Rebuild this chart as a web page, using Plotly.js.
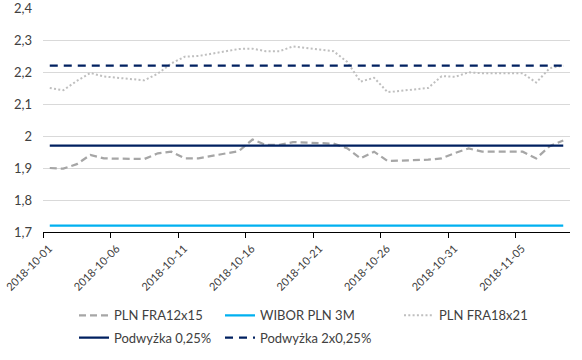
<!DOCTYPE html>
<html>
<head>
<meta charset="utf-8">
<script src="https://cdn.plot.ly/plotly-3.0.1.min.js"></script>
<style>html,body{margin:0;padding:0;background:#fff;}#chart{width:582px;height:360px;}</style>
</head>
<body>
<div id="chart"></div>
<script>
var dates = ['2018-10-01','2018-10-02','2018-10-03','2018-10-04','2018-10-05',
  '2018-10-08','2018-10-09','2018-10-10','2018-10-11','2018-10-12',
  '2018-10-15','2018-10-16','2018-10-17','2018-10-18','2018-10-19',
  '2018-10-22','2018-10-23','2018-10-24','2018-10-25','2018-10-26',
  '2018-10-29','2018-10-30','2018-10-31','2018-11-01','2018-11-02',
  '2018-11-05','2018-11-06','2018-11-07','2018-11-08'];
var fra12x15 = [1.900,1.898,1.912,1.941,1.930,
  1.928,1.946,1.951,1.930,1.930,
  1.953,1.989,1.972,1.972,1.981,
  1.976,1.962,1.930,1.951,1.922,
  1.926,1.930,1.947,1.961,1.951,
  1.951,1.930,1.968,1.986];
var wibor3m = [1.72,1.72,1.72,1.72,1.72,
  1.72,1.72,1.72,1.72,1.72,
  1.72,1.72,1.72,1.72,1.72,
  1.72,1.72,1.72,1.72,1.72,
  1.72,1.72,1.72,1.72,1.72,
  1.72,1.72,1.72,1.72];
var fra18x21 = [2.150,2.143,2.172,2.197,2.186,
  2.174,2.195,2.227,2.248,2.250,
  2.272,2.273,2.265,2.265,2.280,
  2.265,2.232,2.170,2.182,2.137,
  2.150,2.187,2.185,2.199,2.196,
  2.196,2.167,2.212,2.220];
var hike1 = [1.97,1.97,1.97,1.97,1.97,
  1.97,1.97,1.97,1.97,1.97,
  1.97,1.97,1.97,1.97,1.97,
  1.97,1.97,1.97,1.97,1.97,
  1.97,1.97,1.97,1.97,1.97,
  1.97,1.97,1.97,1.97];
var hike2 = [2.22,2.22,2.22,2.22,2.22,
  2.22,2.22,2.22,2.22,2.22,
  2.22,2.22,2.22,2.22,2.22,
  2.22,2.22,2.22,2.22,2.22,
  2.22,2.22,2.22,2.22,2.22,
  2.22,2.22,2.22,2.22];
var tickLabels = ['2018-10-01','2018-10-06','2018-10-11','2018-10-16','2018-10-21','2018-10-26','2018-10-31','2018-11-05'];
var yTicks = [1.7, 1.8, 1.9, 2.0, 2.1, 2.2, 2.3, 2.4];
var seriesNames = ['PLN FRA12x15','WIBOR PLN 3M','PLN FRA18x21','Podwyżka 0,25%','Podwyżka 2x0,25%'];

// Excel date axis: each day is a slot; ticks sit at the slot's left edge
function shift(d, hours){
  var t = new Date(d + 'T00:00:00Z').getTime() + hours*3600000;
  return new Date(t).toISOString().slice(0,19).replace('T',' ');
}
var xs = dates.map(function(d){ return shift(d, 0); });
var tickVals = tickLabels.map(function(d){ return shift(d, -12); });

var W = 582, H = 360, ML = 43, MR = 12, MT = 8, MB = 121;
var PW = W - ML - MR, PH = H - MT - MB;
var FONT = 'Lato, "Liberation Sans", sans-serif';
var traces = [
  {x: xs, y: fra12x15, name: seriesNames[0], mode:'lines', line:{color:'#a6a6a6', width:2.25, dash:'7px,4px'}, legend:'legend'},
  {x: xs, y: wibor3m, name: seriesNames[1], mode:'lines', line:{color:'#00b0f0', width:2.25}, legend:'legend2'},
  {x: xs, y: fra18x21, name: seriesNames[2], mode:'lines', line:{color:'#bfbfbf', width:2, dash:'2px,2.3px'}, legend:'legend3'},
  {x: xs, y: hike1, name: seriesNames[3], mode:'lines', line:{color:'#002060', width:2.25}, legend:'legend4'},
  {x: xs, y: hike2, name: seriesNames[4], mode:'lines', line:{color:'#002060', width:2.25, dash:'8px,6px'}, legend:'legend5'}
];
function leg(px, py){
  return {xref:'paper', yref:'paper', x: (px - ML)/PW, y: (H - MB - py)/PH, xanchor:'left', yanchor:'middle',
    orientation:'v', bgcolor:'rgba(0,0,0,0)', borderwidth:0, font:{family:FONT, size:13, color:'#404040'}};
}
var layout = {
  width:W, height:H,
  margin:{l:ML, r:MR, t:MT, b:MB},
  paper_bgcolor:'#ffffff', plot_bgcolor:'#ffffff',
  separators:', ',
  font:{family:FONT, size:13, color:'#404040'},
  showlegend:true,
  xaxis:{type:'date', range:[shift(dates[0], -12.01), shift(dates[dates.length-1], 12)],
    tickmode:'array', tickvals: tickVals, ticktext: tickLabels, tickangle:-45, automargin:false,
    ticklabeloverflow:'allow', ticklabelshift:6,
    showgrid:false, zeroline:false, showline:true, linecolor:'#000000', linewidth:1,
    ticks:'outside', ticklen:5, tickcolor:'#000000', tickfont:{family:FONT, size:11, color:'#404040'}},
  yaxis:{range:[1.7, 2.4], tickmode:'array', tickvals: yTicks, ticktext: yTicks.map(function(v){ return String(v).replace('.', ','); }),
    showgrid:true, gridcolor:'#d9d9d9', gridwidth:1, automargin:false,
    zeroline:false, showline:false, ticks:'', ticklabelstandoff:10, ticklabeloverflow:'allow',
    tickfont:{family:FONT, size:13, color:'#404040'}},
  legend: leg(74, 325),
  legend2: leg(220, 325),
  legend3: leg(399, 325),
  legend4: leg(74, 348),
  legend5: leg(220, 348)
};
Plotly.newPlot('chart', traces, layout, {staticPlot:true, displayModeBar:false});
</script>
</body>
</html>
